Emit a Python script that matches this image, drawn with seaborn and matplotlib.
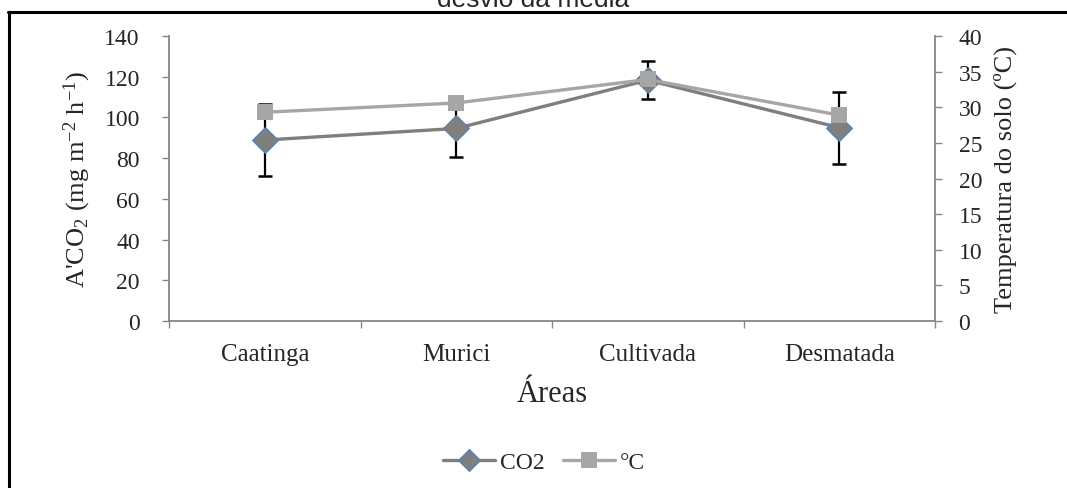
import matplotlib
matplotlib.use("Agg")
import matplotlib.pyplot as plt
from matplotlib.lines import Line2D
import numpy as np
import pandas as pd
import seaborn as sns

# Soil CO2 efflux and soil temperature by land-use area
areas = ["Caatinga", "Murici", "Cultivada", "Desmatada"]
co2 = [88.9, 94.6, 118.3, 95.0]          # mg m-2 h-1
co2_sd = [17.8, 14.0, 9.2, 17.7]         # standard deviation
temp = [29.3, 30.6, 33.9, 28.9]          # soil temperature (ºC)

sns.set_theme(style="ticks")
plt.rcParams["font.family"] = ["Liberation Serif", "DejaVu Serif"]
plt.rcParams["mathtext.fontset"] = "custom"
plt.rcParams["mathtext.rm"] = "Liberation Serif"
plt.rcParams["mathtext.default"] = "regular"

df = pd.DataFrame({"area": areas, "pos": np.arange(len(areas)),
                   "co2": co2, "sd": co2_sd, "temp": temp})

fig = plt.figure(figsize=(10.67, 4.89), dpi=100)
ax = fig.add_axes([0.1584, 0.3415, 0.7179, 0.5828])
ax2 = ax.twinx()

co2_color = "#7f7f7f"
temp_color = "#a6a6a6"
axis_color = "#868686"

# error bars for CO2 sit beneath the markers
ax.errorbar(df["pos"], df["co2"], yerr=df["sd"], fmt="none", ecolor="black",
            elinewidth=1.6, capsize=5, capthick=1.8, zorder=1)
sns.lineplot(data=df, x="pos", y="co2", ax=ax, color=co2_color, lw=2.4,
             marker="D", markersize=13, markerfacecolor=co2_color,
             markeredgecolor="#4f81bd", markeredgewidth=0.8, zorder=3)
sns.lineplot(data=df, x="pos", y="temp", ax=ax2, color=temp_color, lw=2.4,
             marker="s", markersize=12, markerfacecolor=temp_color,
             markeredgecolor=temp_color, markeredgewidth=0, zorder=3)

ax.set_xlim(-0.5, len(areas) - 0.5)
ax.set_ylim(0, 140)
ax2.set_ylim(0, 40)
ax.set_yticks(np.arange(0, 141, 20))
ax2.set_yticks(np.arange(0, 41, 5))

ax.set_xticks(df["pos"])
ax.set_xticklabels(areas, fontsize=18)
ax.set_xticks(np.arange(-0.5, len(areas)), minor=True)
ax.tick_params(axis="x", which="major", length=0, pad=16)
ax.tick_params(axis="x", which="minor", length=5, width=1, color=axis_color,
               direction="out")
ax.tick_params(axis="y", length=5, width=1, color=axis_color, pad=16,
               labelsize=17)
ax2.tick_params(axis="y", length=5, width=1, color=axis_color, pad=12,
                labelsize=17)

for a in (ax, ax2):
    a.spines["top"].set_visible(False)
    for s in ("left", "right", "bottom"):
        a.spines[s].set_color(axis_color)
        a.spines[s].set_linewidth(1.3)
    a.grid(False)
ax.spines["right"].set_visible(False)
ax2.spines["left"].set_visible(False)
ax2.spines["bottom"].set_visible(False)

ax.set_xlabel("Áreas", fontsize=22, labelpad=10)
ax.set_ylabel(r"A'CO$_2$ (mg m$^{-2}$ h$^{-1}$)", fontsize=19, labelpad=8)
ax2.set_ylabel("Temperatura do solo (ºC)", fontsize=19, labelpad=8)

# legend below the plot
handles = [
    Line2D([], [], color=co2_color, lw=2.4, marker="D", markersize=11,
           markerfacecolor=co2_color, markeredgecolor="#4f81bd",
           markeredgewidth=0.8),
    Line2D([], [], color=temp_color, lw=2.4, marker="s", markersize=11,
           markerfacecolor=temp_color, markeredgewidth=0),
]
fig.legend(handles, ["CO2", "°C"], loc="center", bbox_to_anchor=(0.51, 0.053),
           ncol=2, frameon=False, fontsize=17, handlelength=2.2,
           handletextpad=0.2, columnspacing=0.8)

# title and frame lines of the chart area
fig.text(0.5, 0.986, "desvio da média", ha="center", va="baseline",
         fontsize=19, family="Liberation Sans")
fig.add_artist(Line2D([8 / 1067, 1.0], [1 - 12.5 / 489, 1 - 12.5 / 489],
                      transform=fig.transFigure, color="black", lw=2.2))
fig.add_artist(Line2D([8.5 / 1067, 8.5 / 1067], [0.0, 1 - 12.5 / 489],
                      transform=fig.transFigure, color="black", lw=2.2))

fig.savefig("out.png", dpi=100)
